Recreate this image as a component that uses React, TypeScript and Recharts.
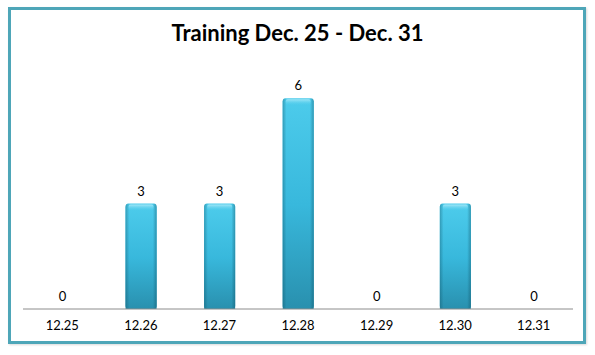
import React from "react";
import { BarChart, Bar, XAxis, YAxis, LabelList } from "recharts";

const categories = ["12.25", "12.26", "12.27", "12.28", "12.29", "12.30", "12.31"];
const trainings = [0, 3, 3, 6, 0, 3, 0];
const chartTitle = "Training Dec. 25 - Dec. 31";

const data = categories.map((day, i) => ({ day, value: trainings[i] }));

const BevelBar = (props: any) => {
  const { x, y, width, height } = props;
  if (!height || height <= 0) return null;
  const r = 3;
  return (
    <g>
      <rect x={x} y={y} width={width} height={height} rx={r} ry={r} fill="url(#barGradV)" />
      <rect x={x} y={y + r} width={width} height={height - r} fill="url(#barGradV)" />
      <rect x={x} y={y} width={width} height={height} rx={r} ry={r} fill="url(#barGradH)" />
      <rect x={x + 3} y={y + 1} width={width - 6} height={6} rx={2} fill="url(#barTop)" />
    </g>
  );
};

export default function App() {
  return (
    <div style={{ position: "absolute", left: 0, top: 0, width: 595, height: 355, background: "#fff" }}>
      <div
        style={{
          position: "absolute",
          left: 8,
          top: 7,
          width: 572,
          height: 331,
          border: "3px solid #4EA6B8",
          boxShadow: "1px 1px 2px rgba(0,0,0,0.15)",
        }}
      />
      <div
        style={{
          position: "absolute",
          left: 0,
          top: 18,
          width: 595,
          textAlign: "center",
          fontFamily: "Lato, 'Open Sans', sans-serif",
          fontWeight: 700,
          fontSize: 22,
          lineHeight: "30px",
          color: "#000",
        }}
      >
        {chartTitle}
      </div>
      <div style={{ position: "absolute", left: 0, top: 0 }}>
        <BarChart
          width={595}
          height={355}
          data={data}
          margin={{ top: 63, right: 22, bottom: 16, left: 23 }}
        >
          <defs>
            <linearGradient id="barGradV" x1="0" y1="0" x2="0" y2="1">
              <stop offset="0%" stopColor="#4CCBEB" />
              <stop offset="50%" stopColor="#38B8DC" />
              <stop offset="100%" stopColor="#2990AE" />
            </linearGradient>
            <linearGradient id="barGradH" x1="0" y1="0" x2="1" y2="0">
              <stop offset="0%" stopColor="#0C4A5C" stopOpacity={0.35} />
              <stop offset="12%" stopColor="#0C4A5C" stopOpacity={0} />
              <stop offset="88%" stopColor="#0C4A5C" stopOpacity={0} />
              <stop offset="100%" stopColor="#0C4A5C" stopOpacity={0.4} />
            </linearGradient>
            <linearGradient id="barTop" x1="0" y1="0" x2="0" y2="1">
              <stop offset="0%" stopColor="#B8EEFA" stopOpacity={0.8} />
              <stop offset="100%" stopColor="#5AD0EE" stopOpacity={0} />
            </linearGradient>
          </defs>
          <XAxis
            dataKey="day"
            height={30}
            axisLine={{ stroke: "#8C8C8C", strokeWidth: 1 }}
            tickLine={false}
            tickMargin={6}
            interval={0}
            tick={{ fill: "#000", fontSize: 13, fontFamily: "Lato, 'Open Sans', sans-serif" }}
          />
          <YAxis hide domain={[0, 7]} />
          <Bar dataKey="value" barSize={31} shape={<BevelBar />} isAnimationActive={false}>
            <LabelList
              dataKey="value"
              position="top"
              offset={8}
              fill="#000"
              fontSize={13}
              fontFamily="Lato, 'Open Sans', sans-serif"
            />
          </Bar>
        </BarChart>
      </div>
    </div>
  );
}
